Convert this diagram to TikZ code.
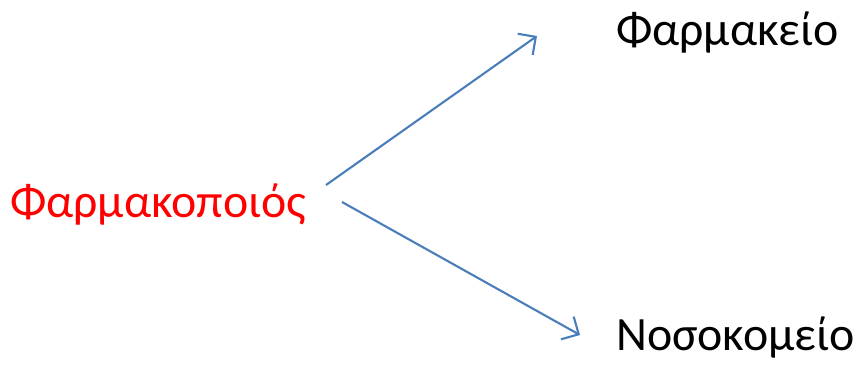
\documentclass[tikz,border=0pt]{standalone}
\usepackage{fontspec}
\setmainfont{Carlito}
\usetikzlibrary{arrows.meta}
\definecolor{linkblue}{HTML}{4A7EBB}

\begin{document}
\begin{tikzpicture}[x=1bp,y=-1bp,font=\fontsize{48}{58}\selectfont,
  txt/.style={anchor=base west,inner sep=0pt},
  link/.style={linkblue,line width=2.1bp,-{Straight Barb[length=13bp,width=26bp,line width=2.1bp]}}]
\useasboundingbox (0,0) rectangle (860,370);
\node[txt,text=red] (maker) at (10,217) {Φαρμακοποιός};
\node[txt] (shop) at (616,45) {Φαρμακείο};
\node[txt] (hosp) at (616,350) {Νοσοκομείο};
\coordinate (up0) at (326,185);\coordinate (up1) at (537,36);
\coordinate (dn0) at (342,202);\coordinate (dn1) at (580,335);
\draw[link] (up0) -- (up1);
\draw[link] (dn0) -- (dn1);
\end{tikzpicture}
\end{document}
